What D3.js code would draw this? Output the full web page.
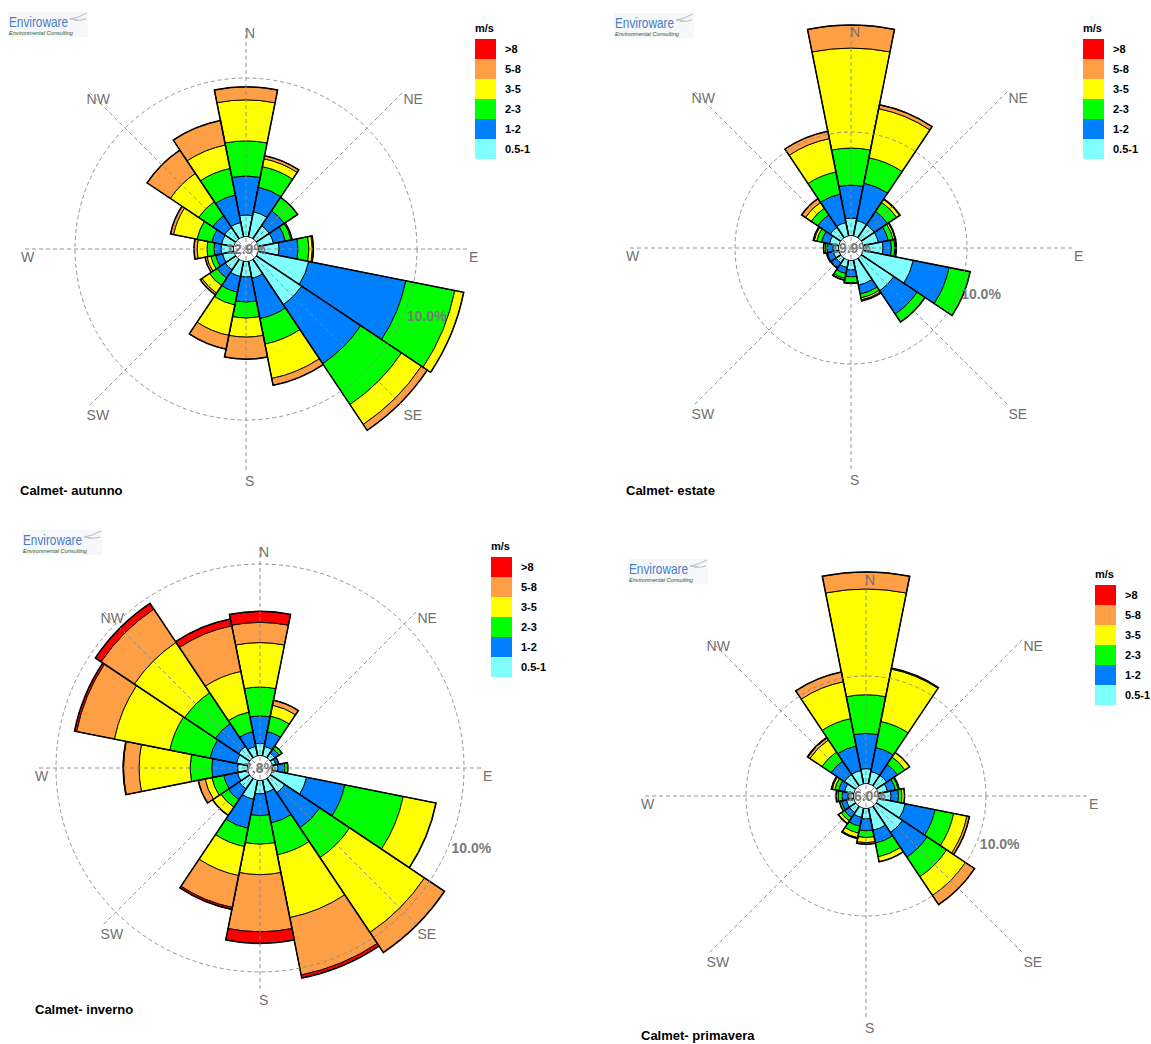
<!DOCTYPE html>
<html>
<head>
<meta charset="utf-8">
<script src="https://cdn.jsdelivr.net/npm/d3@7"></script>
<style>
  html, body { margin: 0; padding: 0; background: #fff; }
  svg { display: block; }
  text { font-family: "Liberation Sans", Arial, sans-serif; }
</style>
</head>
<body>
<svg id="chart" width="1151" height="1044"></svg>
<script>
// ---------------- DATA ----------------
const directions = ["N","NNE","NE","ENE","E","ESE","SE","SSE","S","SSW","SW","WSW","W","WNW","NW","NNW"];
const speedBins = ["0.5-1","1-2","2-3","3-5","5-8",">8"];
const legendLabels = [">8","5-8","3-5","2-3","1-2","0.5-1"];
const unitLabel = "m/s";
const compassLabels = ["N","NE","E","SE","S","SW","W","NW"];
const ringValue = 10; // percent
const titles = ["Calmet- autunno","Calmet- estate","Calmet- inverno","Calmet- primavera"];
const calmPct = [12.9, 19.9, 7.8, 16.0];

// frequency (%) per direction, per speed bin [0.5-1, 1-2, 2-3, 3-5, 5-8, >8]
const autunno = [
  [1.29,2.28,2.05,2.40,0.76,0],
  [1.52,1.46,1.23,0.47,0.18,0],
  [0.94,1.05,0.94,0,0,0],
  [0.94,0.70,0.35,0.06,0,0],
  [1.23,1.11,0.64,0.20,0.06,0],
  [3.04,5.79,2.92,0.53,0,0],
  [3.22,4.15,2.87,1.40,0.41,0],
  [1.05,2.40,1.52,2.05,0.41,0],
  [0.94,1.46,0.94,1.11,1.29,0],
  [0.94,0.94,0.76,1.81,0.82,0],
  [0.76,0.58,0.53,0.53,0.12,0],
  [0.70,0.41,0.29,0.23,0.12,0],
  [0.76,0.41,0.41,0.58,0.18,0],
  [0.76,0.58,0.88,1.40,0.18,0],
  [0.82,0.82,0.99,1.99,1.64,0],
  [0.88,1.64,1.58,1.40,1.46,0]
];
const estate = [
  [1.55,2.84,3.19,8.62,1.98,0],
  [1.38,3.28,2.24,4.31,0.34,0],
  [1.38,1.38,0.95,0.30,0.04,0],
  [1.38,0.86,0.43,0.17,0.04,0],
  [1.72,0.73,0.30,0.09,0.04,0],
  [4.44,3.15,1.85,0,0,0],
  [3.41,2.41,0.82,0,0,0],
  [2.24,0.78,0.34,0.17,0.09,0],
  [0.86,0.60,0.52,0.04,0,0],
  [0.69,0.52,0.43,0.13,0.04,0],
  [0.52,0.52,0.04,0,0,0],
  [0.52,0.52,0.09,0,0,0],
  [0.52,0.52,0.17,0.13,0,0],
  [0.86,0.69,0.43,0.22,0.09,0],
  [1.12,1.29,0.69,0.60,0.39,0],
  [1.21,2.50,1.94,2.93,0.65,0]
];
const inverno = [
  [0.62,1.35,1.41,2.18,0.99,0.54],
  [0.49,0.74,0.78,0.54,0.25,0],
  [0.29,0.25,0.17,0,0,0],
  [0.20,0.15,0,0,0,0],
  [0.29,0.34,0.15,0,0,0],
  [1.74,1.91,2.92,1.64,0,0],
  [0.88,2.06,1.76,4.41,1.18,0],
  [0.64,1.52,1.59,3.14,2.87,0.15],
  [0.68,1.07,1.40,1.49,2.80,0.57],
  [0.98,1.45,0.91,1.45,1.59,0.10],
  [0.64,0.64,0.44,0.49,0,0],
  [0.54,0.69,0.59,0.34,0.34,0],
  [0.51,1.27,1.06,2.50,0.76,0.02],
  [0.59,1.32,2.01,2.77,1.89,0.10],
  [0.69,1.35,1.81,2.97,1.96,0.34],
  [0.49,0.74,0.98,2.03,2.28,0.34]
];
const primavera = [
  [1.28,2.94,3.22,8.81,1.42,0],
  [1.08,2.04,2.21,4.46,0.08,0],
  [1.08,1.08,0.75,0.46,0,0],
  [0.83,0.67,0.25,0.08,0,0],
  [1.08,0.63,0.29,0.22,0,0],
  [2.33,2.54,1.58,1.13,0.21,0],
  [2.67,2.46,1.96,1.88,0.92,0],
  [1.92,1.08,1.17,0.42,0,0],
  [0.92,0.98,0.56,0.43,0.13,0],
  [0.83,0.75,0.58,0.38,0.08,0],
  [0.67,0.50,0.33,0.25,0.04,0],
  [0.67,0.42,0.17,0,0,0],
  [0.50,0.50,0.33,0.13,0.04,0],
  [0.83,0.50,0.33,0.21,0.08,0],
  [1.17,1.33,0.92,1.21,0.21,0.04],
  [1.17,2.08,2.33,3.13,0.83,0]
];
const seasons = [autunno, estate, inverno, primavera];

// ---------------- STYLE / LAYOUT ----------------
const binColors = ["#80FFFF","#0080FF","#00FF00","#FFFF00","#FF9F45","#FF0000"];
const legendColors = ["#FF0000","#FF9F45","#FFFF00","#00FF00","#0080FF","#80FFFF"];
const layout = [
  {cx:246, cy:249, r10:171, lx:475, ly:39, tx:20, ty:495, gx:8,  gy:12},
  {cx:851, cy:248, r10:116, lx:1083, ly:39, tx:626, ty:495, gx:614, gy:13},
  {cx:260, cy:768, r10:204, lx:491, ly:557, tx:35, ty:1014, gx:22, gy:530},
  {cx:866, cy:796, r10:120, lx:1095, ly:585, tx:641, ty:1040, gx:628, gy:559}
];
const calmR = 12, spokeLen = 224;
const deg = Math.PI / 180;

const svg = d3.select("#chart");
const arc = d3.arc();

seasons.forEach((vals, p) => {
  const L = layout[p];
  const g = svg.append("g").attr("transform", `translate(${L.cx},${L.cy})`);
  const rs = d3.scaleLinear().domain([0, ringValue]).range([0, L.r10]);
  const angle = d3.scaleLinear().domain([0, directions.length]).range([0, 360]);
  const half = 360 / directions.length / 2;

  // bars
  const bars = g.append("g");
  directions.forEach((dir, i) => {
    const a0 = (angle(i) - half) * deg, a1 = (angle(i) + half) * deg;
    let cum = 0;
    const bg = bars.append("g");
    vals[i].forEach((v, j) => {
      if (v <= 0) return;
      const inner = calmR + rs(cum);
      cum += v;
      const outer = calmR + rs(cum);
      bg.append("path")
        .attr("d", arc({innerRadius: inner, outerRadius: outer, startAngle: a0, endAngle: a1}))
        .attr("fill", binColors[j])
        .attr("stroke", "#000")
        .attr("stroke-width", 0.9)
        .attr("stroke-linejoin", "miter");
    });
    bg.append("path")
      .attr("d", arc({innerRadius: calmR, outerRadius: calmR + rs(cum), startAngle: a0, endAngle: a1}))
      .attr("fill", "none")
      .attr("stroke", "#000")
      .attr("stroke-width", 1.5);
  });

  // calm circle
  g.append("circle").attr("r", calmR).attr("fill", "#fff");

  // grid (drawn over bars)
  const grid = g.append("g").attr("stroke", "#8a8a8a").attr("stroke-width", 1)
    .attr("stroke-dasharray", "4,3").attr("fill", "none").attr("opacity", 0.9);
  grid.append("circle").attr("r", rs(ringValue));
  compassLabels.forEach((lab, k) => {
    const a = k * 45 * deg;
    grid.append("line").attr("x1", 0).attr("y1", 0)
      .attr("x2", spokeLen * Math.sin(a)).attr("y2", -spokeLen * Math.cos(a));
  });
  compassLabels.forEach((lab, k) => {
    const a = k * 45 * deg;
    g.append("text")
      .attr("x", spokeLen * Math.sin(a) - 1)
      .attr("y", -spokeLen * Math.cos(a) + 13)
      .attr("font-size", 14).attr("fill", "#707070")
      .text(lab);
  });

  // ring label
  const ra = 112.5 * deg;
  g.append("text")
    .attr("x", rs(ringValue) * Math.sin(ra) + 3)
    .attr("y", -rs(ringValue) * Math.cos(ra) + 7)
    .attr("font-size", 14).attr("font-weight", "bold").attr("fill", "#7a7a7a")
    .text(d3.format(".1f")(ringValue) + "%");

  // calm label
  g.append("text").attr("x", 0).attr("y", 5).attr("text-anchor", "middle")
    .attr("font-size", 14).attr("font-weight", "bold").attr("fill", "#7a7a7a")
    .text(d3.format(".1f")(calmPct[p]) + "%");

  // legend
  const lg = svg.append("g").attr("transform", `translate(${L.lx},${L.ly})`);
  lg.append("text").attr("x", 0).attr("y", -7).attr("font-size", 11)
    .attr("font-weight", "bold").attr("fill", "#000").text(unitLabel);
  legendLabels.forEach((lab, k) => {
    lg.append("rect").attr("x", 0).attr("y", k * 20).attr("width", 21).attr("height", 20)
      .attr("fill", legendColors[k]);
    lg.append("text").attr("x", 30).attr("y", k * 20 + 14).attr("font-size", 11)
      .attr("font-weight", "bold").attr("fill", "#000").text(lab);
  });

  // title
  svg.append("text").attr("x", L.tx).attr("y", L.ty).attr("font-size", 13)
    .attr("font-weight", "bold").attr("fill", "#000").text(titles[p]);

  // logo
  const lo = svg.append("g").attr("transform", `translate(${L.gx},${L.gy})`);
  lo.append("rect").attr("width", 80).attr("height", 25).attr("fill", "#f6f7f9");
  lo.append("text").attr("x", 1).attr("y", 15).attr("font-size", 15)
    .attr("fill", "#4a7cc8").attr("textLength", 59).attr("lengthAdjust", "spacingAndGlyphs")
    .text("Enviroware");
  lo.append("text").attr("x", 1).attr("y", 23).attr("font-size", 5.5)
    .attr("font-style", "italic").attr("fill", "#2d5a2d").attr("textLength", 64)
    .attr("lengthAdjust", "spacingAndGlyphs").text("Environmental Consulting");
  lo.append("path").attr("d", "M62,7 Q70,6 79,1 M66,8 Q72,9 78,7 M62,7 L70,8")
    .attr("stroke", "#b8bcc4").attr("stroke-width", 1).attr("fill", "none");
});
</script>
</body>
</html>
